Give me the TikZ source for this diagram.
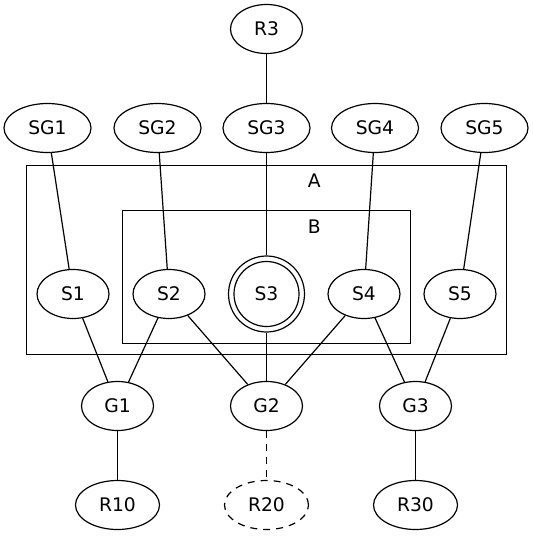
\documentclass[tikz,border=0pt]{standalone}
\usepackage{fontspec}
\setmainfont{DejaVu Sans}
\usetikzlibrary{shapes.geometric}
\begin{document}
\begin{tikzpicture}[x=1pt,y=-1pt,line width=1.2pt,
  gnode/.style={draw,ellipse,inner sep=0pt,minimum height=49pt,minimum width=72pt,font=\fontsize{18.7}{22}\selectfont},
  wide/.style={minimum width=84pt},
  wider/.style={minimum width=87pt},
  dcirc/.style={draw,circle,inner sep=0pt,minimum size=76pt,font=\fontsize{18.7}{22}\selectfont},
  dashedline/.style={dash pattern=on 7pt off 6pt},
  cluster/.style={draw,rectangle,inner sep=0pt},
  clabel/.style={inner sep=0pt,font=\fontsize{18.7}{22}\selectfont}]
\useasboundingbox (0,0) rectangle (533,536);
% clusters
\node[cluster,minimum width=480pt,minimum height=189pt] (A) at (266.5,260) {};
\node[clabel] (Alab) at (314.3,181) {A};
\node[cluster,minimum width=288pt,minimum height=133pt] (B) at (266.5,277) {};
\node[clabel] (Blab) at (314.3,226.5) {B};
% nodes
\node[gnode] (R3) at (266.5,29) {R3};
\node[gnode,wider] (SG1) at (47.5,128) {SG1};
\node[gnode,wider] (SG2) at (157.5,128) {SG2};
\node[gnode,wider] (SG3) at (266.5,128) {SG3};
\node[gnode,wider] (SG4) at (375,128) {SG4};
\node[gnode,wider] (SG5) at (484.5,128) {SG5};
\node[gnode] (S1) at (73,294) {S1};
\node[gnode] (S2) at (169,294) {S2};
\node[dcirc] (S3) at (266.5,294) {S3};
\draw (S3.center) circle[radius=32.5pt];
\node[gnode] (S4) at (364,294) {S4};
\node[gnode] (S5) at (460,294) {S5};
\node[gnode] (G1) at (117.5,406) {G1};
\node[gnode] (G2) at (266.5,406) {G2};
\node[gnode] (G3) at (415.5,406) {G3};
\node[gnode,wide] (R10) at (117.5,505) {R10};
\node[gnode,wide,dashedline] (R20) at (266.5,505) {R20};
\node[gnode,wide] (R30) at (415.5,505) {R30};
% edges
\draw (R3) -- (SG3);
\draw (SG1) -- (S1);
\draw (SG2) -- (S2);
\draw (SG3) -- (S3);
\draw (SG4) -- (S4);
\draw (SG5) -- (S5);
\draw (S1) -- (G1);
\draw (S2) -- (G1);
\draw (S2) -- (G2);
\draw (S3) -- (G2);
\draw (S4) -- (G2);
\draw (S4) -- (G3);
\draw (S5) -- (G3);
\draw (G1) -- (R10);
\draw[dashedline] (G2) -- (R20);
\draw (G3) -- (R30);
\end{tikzpicture}
\end{document}
